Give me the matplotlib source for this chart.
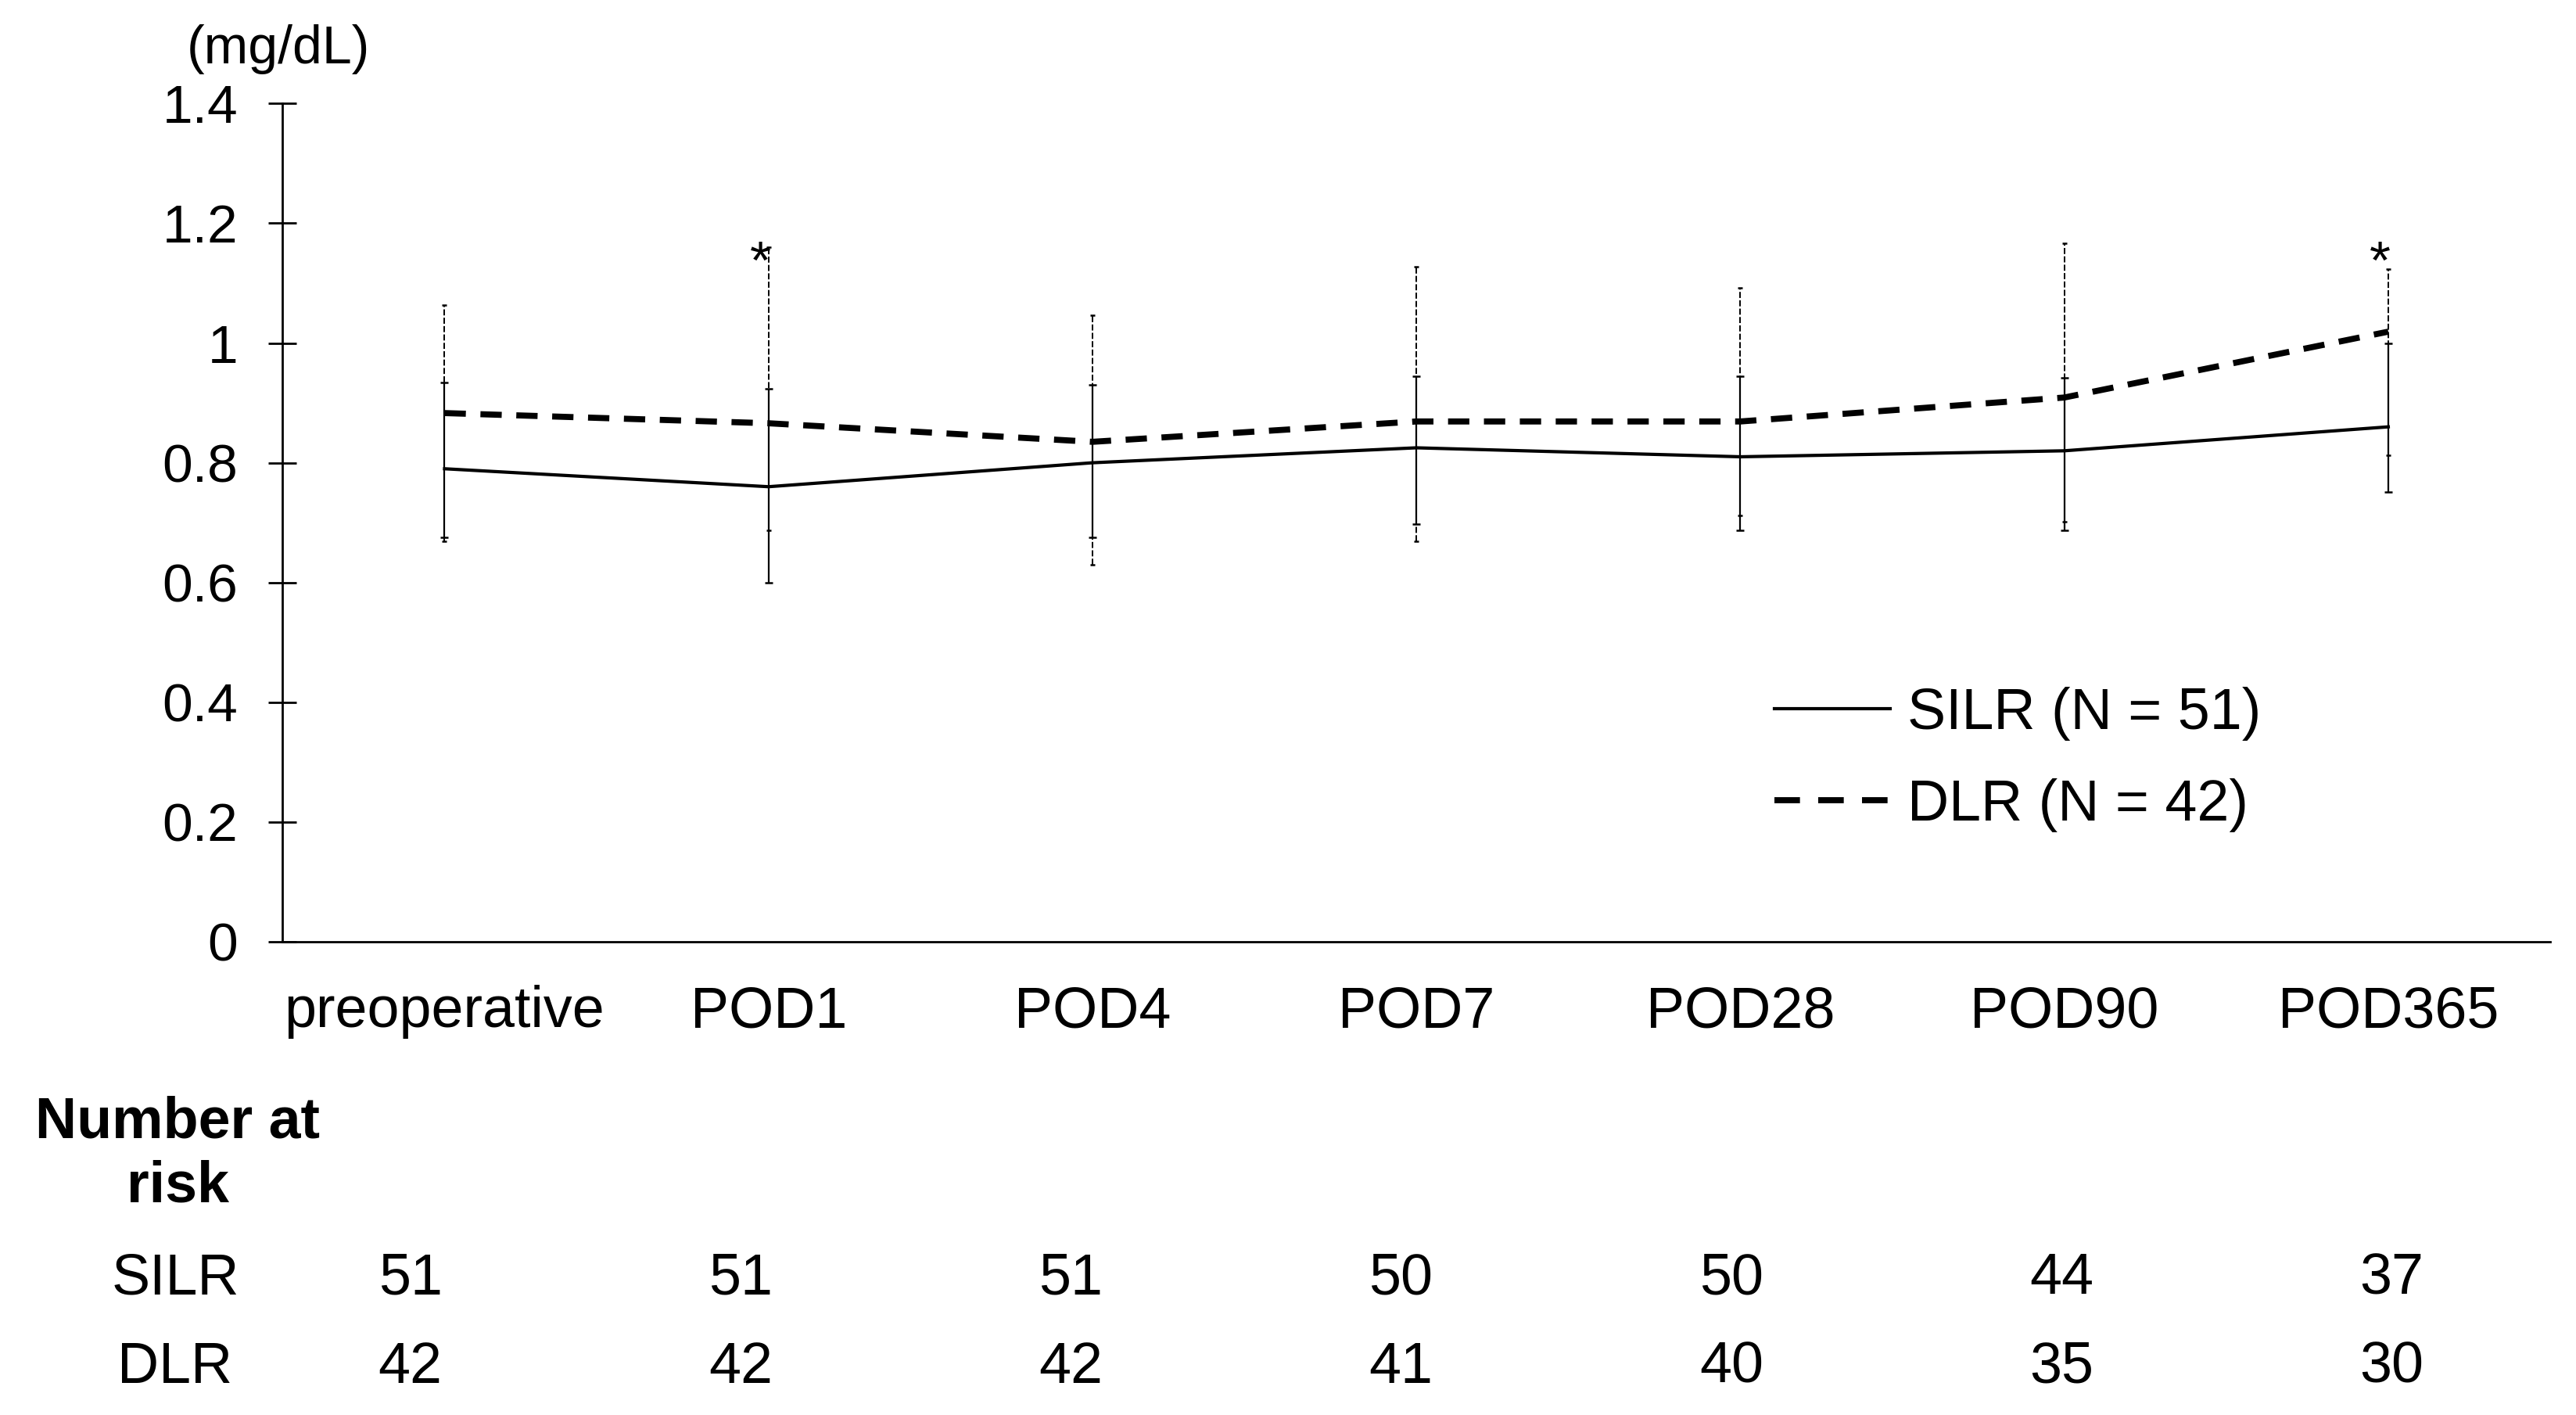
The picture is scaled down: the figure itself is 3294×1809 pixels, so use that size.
import matplotlib
matplotlib.use("Agg")

import matplotlib.pyplot as plt
import matplotlib.transforms as mtransforms
from matplotlib.lines import Line2D
import numpy as np

plt.rcParams["font.family"] = ["Liberation Sans", "DejaVu Sans"]

categories = ["preoperative", "POD1", "POD4", "POD7", "POD28", "POD90", "POD365"]

silr_mean = [0.79, 0.76, 0.80, 0.825, 0.81, 0.82, 0.86]
silr_upper = [0.934, 0.924, 0.930, 0.945, 0.945, 0.942, 1.00]
silr_lower = [0.676, 0.60, 0.676, 0.697, 0.687, 0.687, 0.751]

dlr_mean = [0.883, 0.866, 0.835, 0.869, 0.869, 0.909, 1.019]
dlr_upper = [1.064, 1.16, 1.046, 1.128, 1.092, 1.167, 1.124]
dlr_lower = [0.669, 0.687, 0.630, 0.669, 0.712, 0.701, 0.813]

signif_idx = [1, 6]

risk_silr = [51, 51, 51, 50, 50, 44, 37]
risk_dlr = [42, 42, 42, 41, 40, 35, 30]

yticks = [0, 0.2, 0.4, 0.6, 0.8, 1.0, 1.2, 1.4]
ytick_labels = ["0", "0.2", "0.4", "0.6", "0.8", "1", "1.2", "1.4"]

FS = 26.5
DASH = (0, (3.5, 2.4))
x = np.arange(len(categories))

fig = plt.figure(figsize=(16.47, 9.045), dpi=200)
ax = fig.add_axes([0.1097, 0.3345, 0.8803, 0.5923])

# DLR error bars (dashed, drawn first)
d_mean = np.array(dlr_mean)
d_err = [d_mean - np.array(dlr_lower), np.array(dlr_upper) - d_mean]
eb_d = ax.errorbar(x, d_mean, yerr=d_err, fmt="none", ecolor="black",
                   elinewidth=0.7, capsize=1.2, capthick=0.9, zorder=2)
eb_d[2][0].set_linestyle((0, (4, 1.5)))

s_mean = np.array(silr_mean)
s_err = [s_mean - np.array(silr_lower), np.array(silr_upper) - s_mean]
ax.errorbar(x, s_mean, yerr=s_err, fmt="none", ecolor="black",
            elinewidth=0.8, capsize=1.8, capthick=0.9, zorder=3)

ax.plot(x, s_mean, color="black", linewidth=1.5, zorder=4)
ax.plot(x, d_mean, color="black", linewidth=2.8, linestyle=DASH,
        dash_capstyle="butt", zorder=4)

for i in signif_idx:
    ax.text(x[i] - 0.025, 1.108, "*", fontsize=25, ha="center", va="baseline")

ax.set_xlim(-0.5, 6.5)
ax.set_ylim(0, 1.4)
ax.set_yticks(yticks)
ax.set_yticklabels(ytick_labels, fontsize=25)
ax.set_xticks(x)
ax.set_xticklabels(categories, fontsize=FS)
ax.tick_params(axis="y", direction="inout", length=13, width=1, pad=14)
ax.tick_params(axis="x", length=0, pad=20)
ax.spines["top"].set_visible(False)
ax.spines["right"].set_visible(False)
ax.spines["left"].set_linewidth(1)
ax.spines["bottom"].set_linewidth(1)

handles = [Line2D([], [], color="black", linewidth=1.5),
           Line2D([], [], color="black", linewidth=2.8, linestyle=(0, (4.2, 3.0)),
                  dash_capstyle="butt")]
ax.legend(handles, ["SILR (N = 51)", "DLR (N = 42)"], loc="upper left",
          bbox_to_anchor=(0.658, 0.304), frameon=False, fontsize=FS,
          handlelength=2.0, handletextpad=0.3, labelspacing=0.65,
          borderpad=0, borderaxespad=0)

fig.text(0.108, 0.965, "(mg/dL)", fontsize=24.5, ha="center", va="center")

# number at risk table
trans = mtransforms.blended_transform_factory(ax.transData, fig.transFigure)
fig.text(0.069, 0.2067, "Number at", fontsize=FS, fontweight="bold", ha="center", va="center")
fig.text(0.069, 0.1614, "risk", fontsize=FS, fontweight="bold", ha="center", va="center")
fig.text(0.068, 0.0964, "SILR", fontsize=FS, ha="center", va="center")
fig.text(0.068, 0.0337, "DLR", fontsize=FS, ha="center", va="center")
for i in range(len(categories)):
    tx = -0.106 + i * 1.0195
    ax.text(tx, 0.0964, str(risk_silr[i]), transform=trans, fontsize=FS,
            ha="center", va="center", clip_on=False)
    ax.text(tx, 0.0337, str(risk_dlr[i]), transform=trans, fontsize=FS,
            ha="center", va="center", clip_on=False)

fig.savefig("out.png", dpi=200)
